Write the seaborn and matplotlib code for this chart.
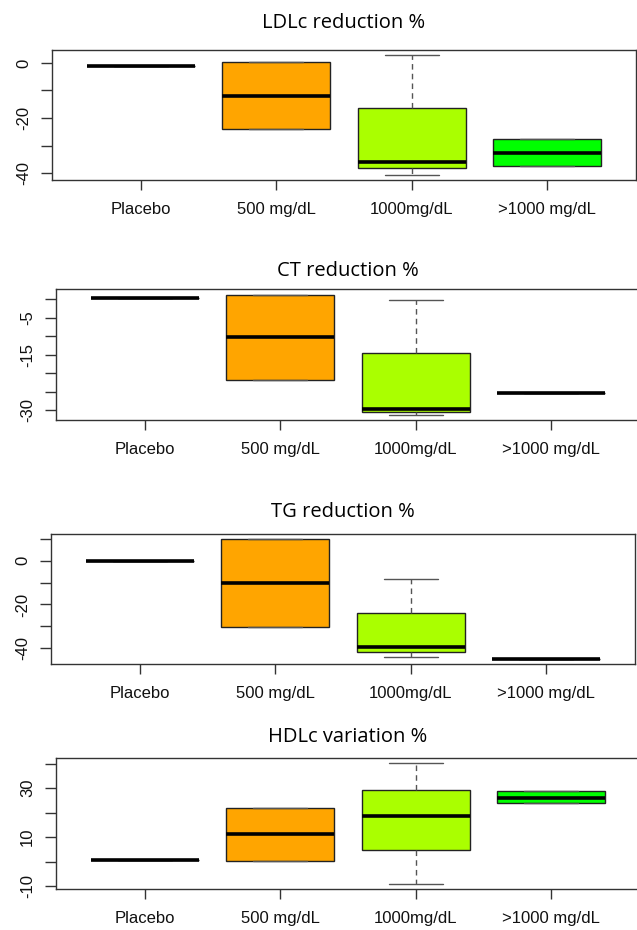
import matplotlib
matplotlib.use("Agg")
import matplotlib.pyplot as plt
import seaborn as sns
import pandas as pd

# grupos de dosis
groups = ["Placebo", "500 mg/dL", "1000mg/dL", ">1000 mg/dL"]
box_colors = ["white", "#FFA500", "#AAFF00", "#00FF00"]

# resumen de cinco numeros por grupo (bigote inf, Q1, mediana, Q3, bigote sup)
ldl_low = [-1.0, -24.0, -40.7, -37.5]
ldl_q1 = [-1.0, -24.0, -38.2, -37.5]
ldl_med = [-1.0, -12.0, -35.9, -32.7]
ldl_q3 = [-1.0, 0.5, -16.4, -27.6]
ldl_high = [-1.0, 0.5, 2.9, -27.6]

ct_low = [0.4, -21.8, -31.3, -25.4]
ct_q1 = [0.4, -21.8, -30.4, -25.4]
ct_med = [0.4, -10.2, -29.5, -25.4]
ct_q3 = [0.4, 1.3, -14.6, -25.4]
ct_high = [0.4, 1.3, -0.2, -25.4]

tg_low = [-0.3, -30.3, -44.1, -44.8]
tg_q1 = [-0.3, -30.3, -41.6, -44.8]
tg_med = [-0.3, -10.1, -39.4, -44.8]
tg_q3 = [-0.3, 9.7, -24.1, -44.8]
tg_high = [-0.3, 9.7, -8.6, -44.8]

hdl_low = [0.5, 0.2, -9.1, 24.1]
hdl_q1 = [0.5, 0.2, 4.9, 24.1]
hdl_med = [0.5, 11.4, 18.6, 26.1]
hdl_q3 = [0.5, 22.0, 29.4, 28.8]
hdl_high = [0.5, 22.0, 40.1, 28.8]

titles = ["LDLc reduction %", "CT reduction %", "TG reduction %", "HDLc variation %"]


def build_frame(low, q1, med, q3, high):
    # cinco valores por grupo -> los percentiles reproducen el resumen
    rows = []
    for i, g in enumerate(groups):
        for v in [low[i], q1[i], med[i], q3[i], high[i]]:
            rows.append({"grupo": g, "valor": v})
    return pd.DataFrame(rows)


frames = [
    build_frame(ldl_low, ldl_q1, ldl_med, ldl_q3, ldl_high),
    build_frame(ct_low, ct_q1, ct_med, ct_q3, ct_high),
    build_frame(tg_low, tg_q1, tg_med, tg_q3, tg_high),
    build_frame(hdl_low, hdl_q1, hdl_med, hdl_q3, hdl_high),
]

# posicion de cada panel en pixeles: izquierda, arriba, abajo
W, H = 637, 930
panel_px = [(52, 50, 180), (56, 289, 420), (51, 534, 664), (56, 758, 889)]
ylims = [(-42.5, 4.7), (-32.6, 2.8), (-47.1, 12.1), (-11.2, 42.3)]
yticks = [
    [0, -10, -20, -30, -40],
    [0, -5, -10, -15, -20, -25, -30],
    [10, 0, -10, -20, -30, -40],
    [40, 30, 20, 10, 0, -10],
]
ylabels_shown = [[0, -20, -40], [-5, -15, -30], [0, -20, -40], [30, 10, -10]]
title_pad_px = [22, 13, 17, 16]

sns.set_style("white")
plt.rcParams["font.family"] = ["Liberation Sans", "DejaVu Sans"]

fig = plt.figure(figsize=(W / 100, H / 100), dpi=100)

for k in range(4):
    left, top, bottom = panel_px[k]
    ax = fig.add_axes([left / W, 1 - bottom / H, 584 / W, (bottom - top) / H])
    sns.boxplot(data=frames[k], x="grupo", y="valor", hue="grupo", order=groups,
                hue_order=groups, palette=box_colors, saturation=1, width=0.8,
                whis=(0, 100), linecolor="#222222", linewidth=1, legend=False,
                medianprops=dict(color="black", linewidth=2.6),
                whiskerprops=dict(color="#555555", linestyle=(0, (4, 3))),
                capprops=dict(color="#555555"), ax=ax)
    ax.set_xlim(-0.66, 3.66)
    ax.set_ylim(*ylims[k])
    ax.set_yticks(yticks[k])
    ax.set_yticklabels([str(t) if t in ylabels_shown[k] else "" for t in yticks[k]])
    ax.set_xlabel("")
    ax.set_ylabel("")
    ax.tick_params(axis="y", direction="out", length=8, width=1, color="#333333",
                   labelcolor="#111111", labelsize=12, labelrotation=90, pad=7, left=True)
    ax.tick_params(axis="x", direction="out", length=7, width=1, color="#333333",
                   labelcolor="#111111", labelsize=12, pad=9, bottom=True)
    for lab in ax.get_yticklabels():
        lab.set_va("center")
    for s in ax.spines.values():
        s.set_visible(True)
        s.set_color("#333333")
        s.set_linewidth(1)
    ax.set_title(titles[k], fontsize=14.5, color="black",
                 family=["Open Sans", "DejaVu Sans"], pad=title_pad_px[k] * 0.72)

fig.savefig("out.png", dpi=100)
